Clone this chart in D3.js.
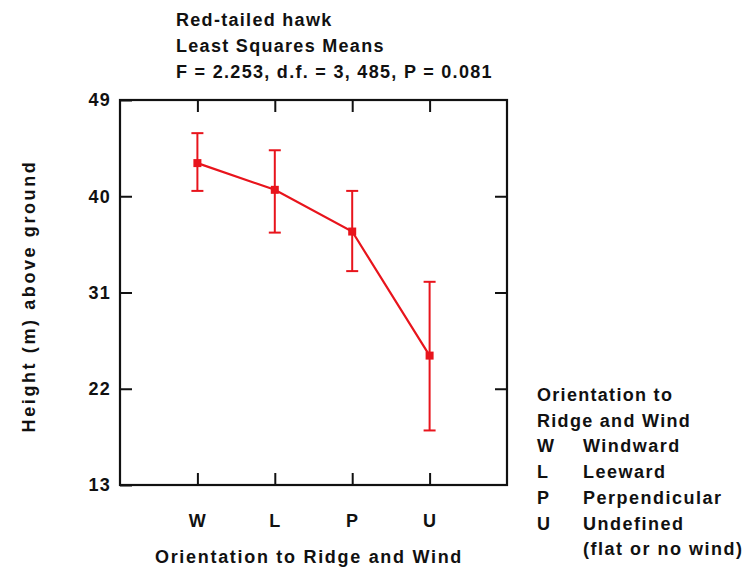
<!DOCTYPE html>
<html>
<head>
<meta charset="utf-8">
<script src="https://cdn.jsdelivr.net/npm/d3@7/dist/d3.min.js"></script>
<style>
  body { margin: 0; background: #fff; }
  text { font-family: "Liberation Sans", Arial, sans-serif; font-weight: bold; fill: #111; font-size: 18px; }
</style>
</head>
<body>
<svg id="chart" width="744" height="571"></svg>
<script>
// least squares means with error bars
var categories = ['W', 'L', 'P', 'U'];
var means = [43.1, 40.6, 36.7, 25.1];
var upper = [45.9, 44.3, 40.5, 32.0];
var lower = [40.5, 36.6, 33.0, 18.1];
var yTicks = [13, 22, 31, 40, 49];

var titleLines = ['Red-tailed hawk', 'Least Squares Means', 'F = 2.253, d.f. = 3, 485, P = 0.081'];
var legendTitle = ['Orientation to', 'Ridge and Wind'];
var legendCodes = ['W', 'L', 'P', 'U', ''];
var legendNames = ['Windward', 'Leeward', 'Perpendicular', 'Undefined', '(flat or no wind)'];

var red = '#e8141c';
var svg = d3.select('#chart');

var frame = { left: 120, right: 507, top: 100, bottom: 485 };

var x = d3.scalePoint()
  .domain(categories)
  .range([frame.left, frame.right])
  .padding(1);

var y = d3.scaleLinear()
  .domain([13, 49])
  .range([frame.bottom, frame.top]);

// title
svg.append('g').selectAll('text')
  .data(titleLines)
  .enter().append('text')
  .attr('x', 176)
  .attr('y', function (d, i) { return 25.5 + i * 26; })
  .style('letter-spacing', '1.3px')
  .text(function (d) { return d; });

// axes, ticks pointing inwards on all four sides
function styleAxis(g) {
  g.select('.domain').remove();
  g.selectAll('.tick line').attr('stroke', '#111').attr('stroke-width', 2);
  g.selectAll('.tick text')
    .style('font-size', '18px')
    .style('font-family', '"Liberation Sans", Arial, sans-serif')
    .style('font-weight', 'bold')
    .style('letter-spacing', '1.2px')
    .attr('fill', '#111');
}

svg.append('g')
  .attr('transform', 'translate(' + frame.left + ',0)')
  .call(d3.axisLeft(y).tickValues(yTicks).tickSizeInner(-12).tickSizeOuter(0).tickPadding(9))
  .call(styleAxis);

svg.append('g')
  .attr('transform', 'translate(' + frame.right + ',0)')
  .call(d3.axisRight(y).tickValues(yTicks.slice(1, -1)).tickSizeInner(-12).tickSizeOuter(0).tickFormat(''))
  .call(styleAxis);

svg.append('g')
  .attr('transform', 'translate(0,' + frame.bottom + ')')
  .call(d3.axisBottom(x).tickSizeInner(-12).tickSizeOuter(0).tickPadding(29))
  .call(styleAxis);

svg.append('g')
  .attr('transform', 'translate(0,' + frame.top + ')')
  .call(d3.axisTop(x).tickSizeInner(-12).tickSizeOuter(0).tickFormat(''))
  .call(styleAxis);

svg.append('rect')
  .attr('x', frame.left)
  .attr('y', frame.top)
  .attr('width', frame.right - frame.left)
  .attr('height', frame.bottom - frame.top)
  .attr('fill', 'none')
  .attr('stroke', '#111')
  .attr('stroke-width', 2.2);

// axis titles
svg.append('text')
  .attr('x', 309)
  .attr('y', 563)
  .attr('text-anchor', 'middle')
  .style('letter-spacing', '1.7px')
  .text('Orientation to Ridge and Wind');

svg.append('text')
  .attr('transform', 'translate(35,296) rotate(-90)')
  .attr('text-anchor', 'middle')
  .style('letter-spacing', '2.6px')
  .text('Height (m) above ground');

// error bars
var bars = svg.append('g').selectAll('g.err')
  .data(categories)
  .enter().append('g')
  .attr('class', 'err');

bars.append('line')
  .attr('x1', function (d) { return x(d); })
  .attr('x2', function (d) { return x(d); })
  .attr('y1', function (d, i) { return y(upper[i]); })
  .attr('y2', function (d, i) { return y(lower[i]); })
  .attr('stroke', red).attr('stroke-width', 2);

[upper, lower].forEach(function (arr) {
  bars.append('line')
    .attr('x1', function (d) { return x(d) - 6; })
    .attr('x2', function (d) { return x(d) + 6; })
    .attr('y1', function (d, i) { return y(arr[i]); })
    .attr('y2', function (d, i) { return y(arr[i]); })
    .attr('stroke', red).attr('stroke-width', 2);
});

// mean line and markers
var line = d3.line()
  .x(function (d, i) { return x(categories[i]); })
  .y(function (d) { return y(d); });

svg.append('path')
  .datum(means)
  .attr('d', line)
  .attr('fill', 'none')
  .attr('stroke', red)
  .attr('stroke-width', 2.2);

svg.append('g').selectAll('rect')
  .data(means)
  .enter().append('rect')
  .attr('x', function (d, i) { return x(categories[i]) - 4; })
  .attr('y', function (d) { return y(d) - 4; })
  .attr('width', 8)
  .attr('height', 8)
  .attr('fill', red);

// legend
var legend = svg.append('g').attr('transform', 'translate(537,0)');

legend.selectAll('text.head')
  .data(legendTitle)
  .enter().append('text')
  .attr('class', 'head')
  .attr('x', 0)
  .attr('y', function (d, i) { return 401 + i * 25.7; })
  .style('letter-spacing', '1.3px')
  .text(function (d) { return d; });

legend.selectAll('text.code')
  .data(legendCodes)
  .enter().append('text')
  .attr('class', 'code')
  .attr('x', 0)
  .attr('y', function (d, i) { return 452.4 + i * 25.7; })
  .text(function (d) { return d; });

legend.selectAll('text.name')
  .data(legendNames)
  .enter().append('text')
  .attr('class', 'name')
  .attr('x', 46)
  .attr('y', function (d, i) { return 452.4 + i * 25.7; })
  .style('letter-spacing', '1.5px')
  .text(function (d) { return d; });
</script>
</body>
</html>
